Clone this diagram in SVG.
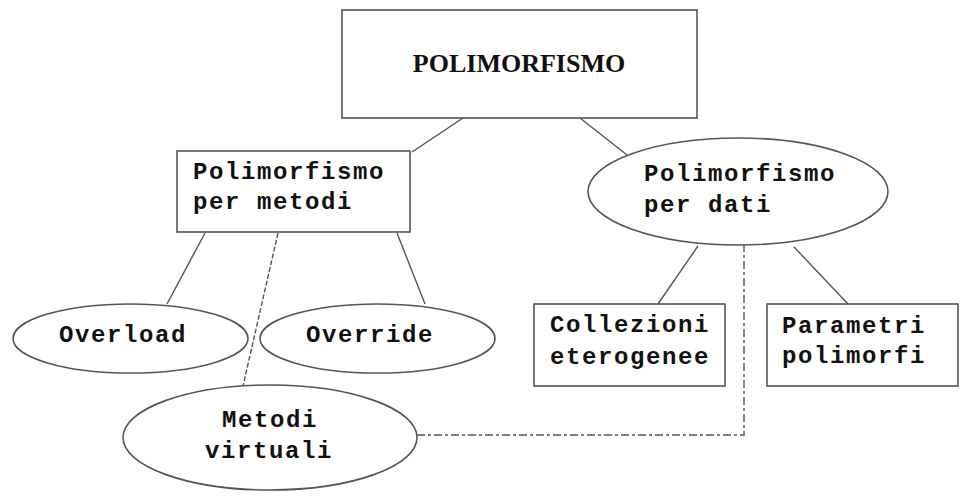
<svg xmlns="http://www.w3.org/2000/svg" width="969" height="503" viewBox="0 0 969 503">
  <style>
    .shape { fill: #ffffff; stroke: #555555; stroke-width: 1.6; }
    .link { fill: none; stroke: #555555; stroke-width: 1.4; }
    .dash { stroke-dasharray: 5 2; }
    .dashdot { stroke-dasharray: 8 3 3 3; }
    .mono { font-family: "Liberation Mono", "Courier New", monospace; font-weight: bold; font-size: 24px; letter-spacing: 1.6px; fill: #111111; }
    .title { font-family: "Liberation Serif", "Times New Roman", serif; font-weight: bold; font-size: 26px; fill: #111111; }
  </style>
  <rect width="969" height="503" fill="#ffffff"/>

  <!-- connectors -->
  <g id="connectors">
    <line class="link" x1="463" y1="118" x2="412" y2="152"/>
    <line class="link" x1="580" y1="118" x2="627" y2="155"/>
    <line class="link" x1="205" y1="233" x2="167" y2="304"/>
    <line class="link" x1="397" y1="233" x2="425" y2="304"/>
    <line class="link dash" x1="278" y1="233" x2="243" y2="386"/>
    <line class="link" x1="698" y1="246" x2="658" y2="304"/>
    <line class="link" x1="794" y1="247" x2="848" y2="304"/>
    <path class="link dashdot" d="M417 435 H744 V245"/>
  </g>

  <g id="polimorfismo">
    <rect class="shape" x="342" y="10" width="355" height="108"/>
    <text class="title" x="519" y="72" text-anchor="middle">POLIMORFISMO</text>
  </g>

  <g id="per-metodi">
    <rect class="shape" x="177" y="151" width="233" height="81"/>
    <text class="mono" x="193" y="179">Polimorfismo</text>
    <text class="mono" x="193" y="209">per metodi</text>
  </g>

  <g id="per-dati">
    <ellipse class="shape" cx="738" cy="191.5" rx="150" ry="53.5"/>
    <text class="mono" x="644" y="181">Polimorfismo</text>
    <text class="mono" x="644" y="212">per dati</text>
  </g>

  <g id="overload">
    <ellipse class="shape" cx="130.5" cy="338.5" rx="117.5" ry="34.5"/>
    <text class="mono" x="59" y="342">Overload</text>
  </g>

  <g id="override">
    <ellipse class="shape" cx="377.5" cy="338.5" rx="117.5" ry="34.5"/>
    <text class="mono" x="306" y="342">Override</text>
  </g>

  <g id="metodi-virtuali">
    <ellipse class="shape" cx="270" cy="437.5" rx="147" ry="52.5"/>
    <text class="mono" x="222" y="427">Metodi</text>
    <text class="mono" x="205" y="458">virtuali</text>
  </g>

  <g id="collezioni">
    <rect class="shape" x="534" y="304" width="191" height="82"/>
    <text class="mono" x="550" y="332">Collezioni</text>
    <text class="mono" x="550" y="364">eterogenee</text>
  </g>

  <g id="parametri">
    <rect class="shape" x="767" y="304" width="191" height="82"/>
    <text class="mono" x="782" y="333">Parametri</text>
    <text class="mono" x="782" y="363">polimorfi</text>
  </g>
</svg>
